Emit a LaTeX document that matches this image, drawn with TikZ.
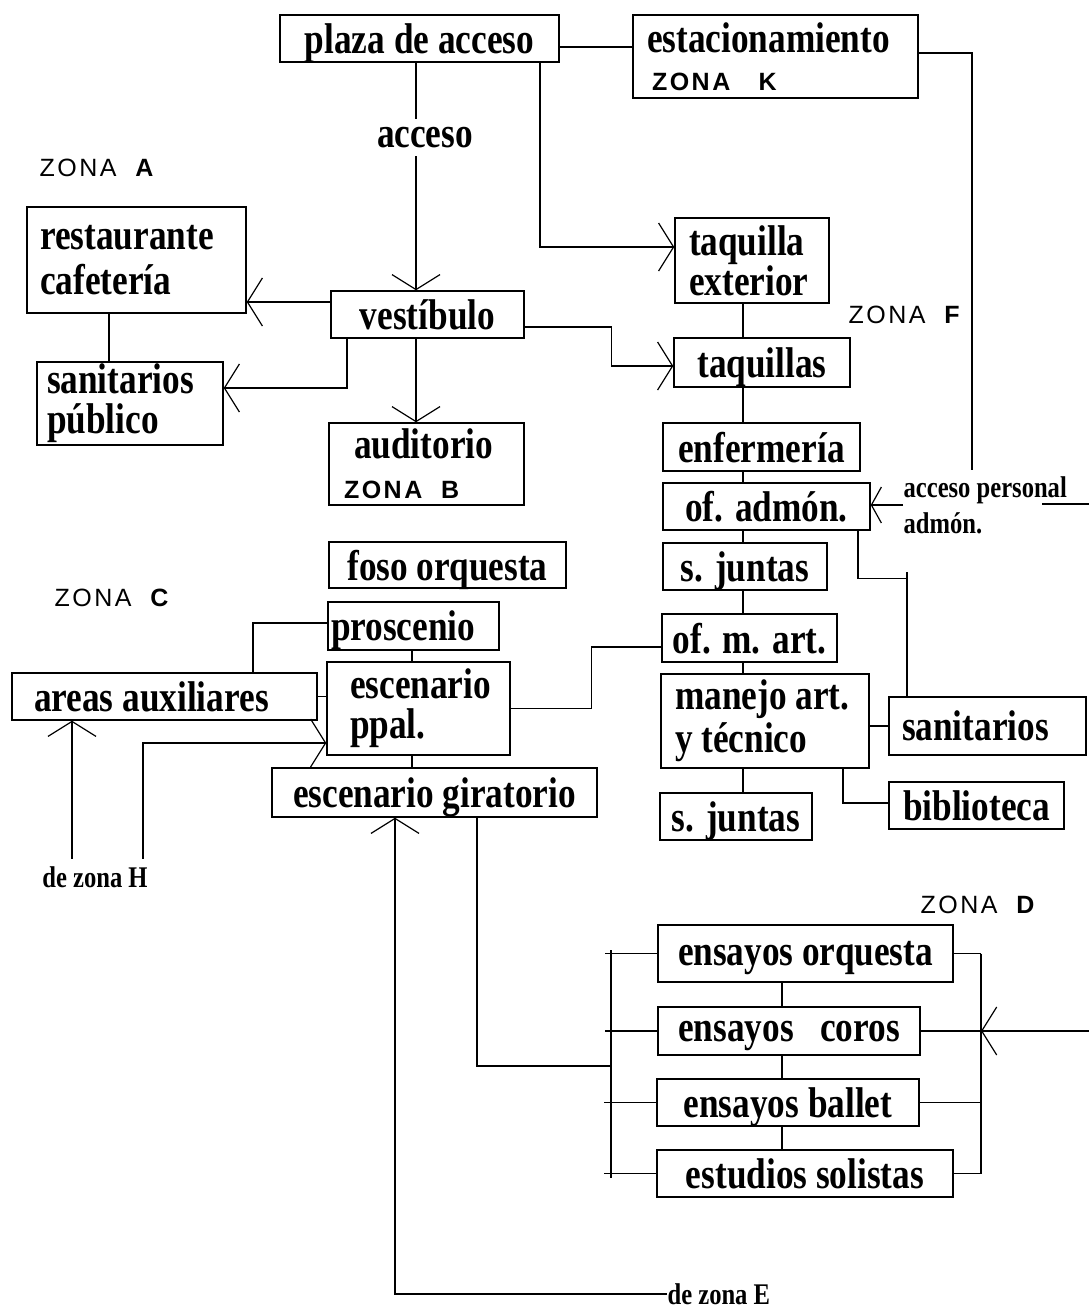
\documentclass[tikz,border=0pt]{standalone}
\usepackage{fontspec}
\usetikzlibrary{arrows.meta}
\newfontfamily\cajafont{Liberation Serif}[FakeStretch=0.82]
\newfontfamily\zonafont{Liberation Sans}[LetterSpace=10]
\newcommand{\zona}[2][~~]{{\zonafont\fontsize{25}{25}\selectfont ZONA#1#2}}

\begin{document}
\begin{tikzpicture}[x=1pt,y=-1pt,line width=1.2pt,
  marco/.style={draw,line width=1.4pt,inner xsep=0pt,inner ysep=0pt,
               font=\cajafont\bfseries\fontsize{43}{40}\selectfont},
  caja/.style={marco,text depth=0pt},
  dim/.style 2 args={minimum width=#1pt,minimum height=#2pt},
  izq/.style 2 args={align=flush left,inner xsep=#1pt,text width=#2pt},
  etiq/.style={inner sep=0pt,font=\cajafont\bfseries\fontsize{30}{36}\selectfont},
  zon/.style={inner sep=0pt,anchor=west},
  flecha/.style={-{Straight Barb[length=15pt,width=48pt]}},
  flechita/.style={-{Straight Barb[length=10pt,width=36pt]}}
]
\useasboundingbox (0,0) rectangle (1089,1309);

% acceso y zona A
\node[caja,dim={279}{47}] (plaza) at (419.5,38.5) {plaza de acceso};
\node[marco,dim={285}{83},izq={14}{257}] (estac) at (775.5,56.5)
  {estacionamiento\\[-2pt]\hspace*{5pt}\zona[~~~]{K}};
\node[zon] (zonaA) at (39,168) {\zona{\textbf{A}}};
\node[marco,dim={219}{106},izq={13}{193}] (rest) at (136.5,260)
  {restaurante\\[5pt]cafetería};
\node[marco,dim={186}{83},izq={10}{166}] (sanpub) at (130,403.5)
  {sanitarios\\[0pt]público};
\node[caja,dim={193}{47}] (vest) at (427.5,314.5) {vestíbulo};
\node[marco,dim={195}{82},izq={15}{165}] (aud) at (426.5,464)
  {\hspace*{10pt}auditorio\\\zona{\textbf{B}}};

% zona F
\node[marco,dim={154}{85},izq={14}{126}] (taqext) at (752,260.5)
  {taquilla\\[0pt]exterior};
\node[zon] (zonaF) at (848,315) {\zona{\textbf{F}}};
\node[caja,dim={176}{49}] (taq) at (762,362.5) {taquillas};
\node[caja,dim={197}{48}] (enf) at (761.5,447) {enfermería};
\node[caja,dim={207}{47}] (adm) at (766.5,506.5) {of. admón.};
\node[etiq,anchor=west,align=flush left] (pers) at (903,505) {acceso personal\\admón.};
\node[caja,dim={164}{47}] (sj1) at (745,566.5) {s. juntas};
\node[caja,dim={175}{48}] (ofm) at (749.5,638) {of. m. art.};
\node[marco,dim={208}{94},izq={14}{180}] (man) at (765,721)
  {manejo art.\\[3pt]y técnico};
\node[caja,dim={197}{58},izq={13}{171}] (san) at (987.5,726) {sanitarios};
\node[caja,dim={175}{47}] (bib) at (976.5,805.5) {biblioteca};
\node[caja,dim={152}{47}] (sj2) at (736,816.5) {s. juntas};

% zona C
\node[caja,dim={237}{46}] (foso) at (447.5,565) {foso orquesta};
\node[zon] (zonaC) at (54,598) {\zona{\textbf{C}}};
\node[caja,dim={171}{48},izq={3}{165}] (pros) at (413.5,626) {proscenio};
\node[caja,dim={305}{47},izq={22}{261}] (aux) at (164.5,696.5) {areas auxiliares};
\node[marco,dim={183}{93},izq={23}{137}] (esc) at (418.5,708.5) {escenario\\ppal.};
\node[caja,dim={325}{49}] (gir) at (434.5,792.5) {escenario giratorio};
\node[etiq] (deH) at (95,877) {de zona H};

% zona D
\node[zon] (zonaD) at (920,905) {\zona{\textbf{D}}};
\node[caja,dim={295}{57}] (orq) at (805.5,953.5) {ensayos orquesta};
\node[caja,dim={262}{48}] (cor) at (789,1031) {ensayos~~~coros};
\node[caja,dim={262}{47}] (bal) at (788,1102.5) {ensayos ballet};
\node[caja,dim={296}{47}] (sol) at (805,1173.5) {estudios solistas};
\node[etiq,anchor=west] (deE) at (667,1294) {de zona E};

\coordinate (kbaja) at (972,470);
\coordinate (persD) at (1042,504);
\coordinate (bordeP) at (1089,504);
\coordinate (ejeF) at (743,0);
\coordinate (ejeD) at (782,0);
\coordinate (ejeDer) at (981,0);
\coordinate (busIa) at (611,950);
\coordinate (busIb) at (611,1178);
\coordinate (busIm) at (611,1066);
\coordinate (bordeD) at (1089,1031);

% conexiones de acceso
\draw ([yshift=-8.5pt]plaza.east) -- ([yshift=-8.5pt]plaza.east -| estac.west);
\draw ([yshift=3.5pt]estac.east) -| (kbaja);
\draw[flecha] ([xshift=120.5pt]plaza.south) |- ([yshift=13.5pt]taqext.west);
\draw[flecha] ([xshift=-3.5pt]plaza.south) --
  node[pos=0.33,xshift=9pt,fill=white,inner xsep=0pt,inner ysep=8pt,
       font=\cajafont\bfseries\fontsize{43}{40}\selectfont] (acc) {acceso}
  ([xshift=-3.5pt]plaza.south |- vest.north);
\draw[flecha] ([yshift=12.5pt]vest.west) -- ([yshift=12.5pt]vest.west -| rest.east);
\draw[flecha] ([xshift=-80.5pt]vest.south) |- ([yshift=15.5pt]sanpub.east);
\draw ([xshift=-27.5pt]rest.south) -- ([xshift=-27.5pt]rest.south |- sanpub.north);
\draw[flecha] ([xshift=-11.5pt]vest.south) -- ([xshift=-11.5pt]vest.south |- aud.north);
\draw[flecha] ([yshift=-12.5pt]vest.east) -- ++(87,0) |- ([yshift=-3.5pt]taq.west);

% columna de zona F
\foreach \a/\b in {taqext/taq,taq/enf,enf/adm,adm/sj1,sj1/ofm,ofm/man,man/sj2}
  \draw (\a.south -| ejeF) -- (\b.north -| ejeF);
\draw[flechita] (pers.west) -- (pers.west -| adm.east);
\draw (persD) -- (bordeP);
\draw ([xshift=91.5pt]adm.south) |- ([xshift=-80.5pt,yshift=118pt]san.north);
\draw ([xshift=-80.5pt,yshift=124pt]san.north) -- ([xshift=-80.5pt]san.north);
\draw (man.east |- san.west) -- (san.west);
\draw ([xshift=78pt]man.south) |- ([yshift=2.5pt]bib.west);
\draw ([yshift=-9pt]ofm.west) -- ++(-70,0) |- (esc.east);

% escenario
\draw ([yshift=3pt]pros.west) -| ([xshift=88.5pt]aux.north);
\draw ([xshift=-1.5pt]pros.south) -- ([xshift=-1.5pt]pros.south |- esc.north);
\draw ([xshift=-6.5pt]esc.south) -- ([xshift=-6.5pt]esc.south |- gir.north);
\draw (aux.east) -- (aux.east -| esc.west);
\draw[flecha] ([xshift=-23pt,yshift=7pt]deH.north) -- ([xshift=-23pt]deH.north |- aux.south);
\draw[flecha] ([xshift=48pt,yshift=7pt]deH.north) |- ([yshift=-34.5pt]esc.west);
\draw[flecha] (deE.west) -| ([xshift=-39.5pt]gir.south);
\draw ([xshift=42.5pt]gir.south) |- (busIm);

% ensayos
\draw (busIa) -- (busIb);
\foreach \n in {orq,cor,bal,sol}
  \draw (\n.west) -- ++(-52,0);
\foreach \n in {orq,cor,bal,sol}
  \draw (\n.east) -- (\n.east -| ejeDer);
\draw (orq.east -| ejeDer) -- (sol.east -| ejeDer);
\draw[flecha] (bordeD) -- (bordeD -| ejeDer);
\foreach \a/\b in {orq/cor,cor/bal,bal/sol}
  \draw (\a.south -| ejeD) -- (\b.north -| ejeD);
\end{tikzpicture}
\end{document}
